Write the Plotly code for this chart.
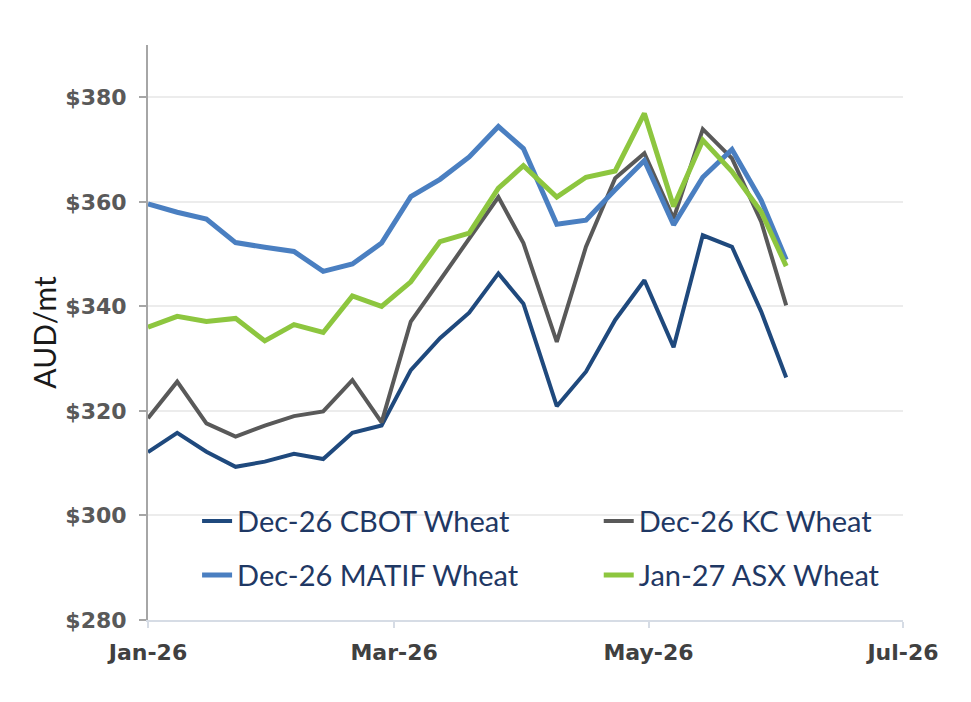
import plotly.graph_objects as go

# weekly settlement dates (a couple shifted for holidays)
dates = ["2026-01-01", "2026-01-08", "2026-01-15", "2026-01-22", "2026-01-29",
         "2026-02-05", "2026-02-12", "2026-02-19", "2026-02-26", "2026-03-05",
         "2026-03-12", "2026-03-19", "2026-03-26", "2026-04-01", "2026-04-09",
         "2026-04-16", "2026-04-23", "2026-04-30", "2026-05-07", "2026-05-14",
         "2026-05-21", "2026-05-28", "2026-06-03"]

cbot = [312.1, 315.8, 312.2, 309.3, 310.3, 311.8, 310.8, 315.8, 317.2, 327.8, 333.9, 338.8,
        346.3, 340.5, 320.9, 327.5, 337.4, 345.0, 332.2, 353.6, 351.4, 339.0, 326.4]
kc = [318.6, 325.6, 317.6, 315.1, 317.2, 319.0, 319.9, 325.9, 317.8, 337.1, 345.0, 353.0,
      360.9, 352.1, 333.2, 351.4, 364.5, 369.3, 356.8, 373.9, 368.3, 356.2, 340.2]
matif = [359.6, 358.0, 356.7, 352.2, 351.3, 350.5, 346.7, 348.1, 352.1, 361.0, 364.3, 368.6,
         374.4, 370.2, 355.7, 356.5, 362.3, 367.9, 355.6, 364.7, 370.0, 360.3, 348.9]
asx = [336.0, 338.1, 337.1, 337.7, 333.4, 336.5, 335.0, 342.0, 340.0, 344.7, 352.4, 354.0,
       362.6, 366.9, 360.9, 364.7, 365.9, 376.9, 359.1, 371.8, 365.8, 358.1, 347.7]

names = ["Dec-26 CBOT Wheat", "Dec-26 KC Wheat", "Dec-26 MATIF Wheat", "Jan-27 ASX Wheat"]
y_ticks = [280, 300, 320, 340, 360, 380]
y_labels = ["$" + str(v) for v in y_ticks]
x_ticks = ["2026-01-01", "2026-03-01", "2026-05-01", "2026-07-01"]
x_labels = ["Jan-26", "Mar-26", "May-26", "Jul-26"]

# name, values, colour, width, legend id, legend position (paper x, y)
SERIES = [
    (names[0], cbot, "#1f497d", 4, "legend", (0.065, 0.172)),
    (names[1], kc, "#595959", 4, "legend2", (0.597, 0.172)),
    (names[2], matif, "#4a7fc1", 5, "legend3", (0.065, 0.078)),
    (names[3], asx, "#8dc63f", 5, "legend4", (0.597, 0.078)),
]

fig = go.Figure()
leg_font = dict(family="Lato", size=29, color="#1f3864")
legends = {}
for name, vals, color, width, leg, (lx, ly) in SERIES:
    fig.add_trace(go.Scatter(x=dates, y=vals, mode="lines", name=name, showlegend=True,
                             line=dict(color=color, width=width), legend=leg))
    legends[leg] = dict(x=lx, y=ly, xanchor="left", yanchor="middle",
                        font=leg_font, bgcolor="rgba(0,0,0,0)")

# page body has an 8px margin, so the figure is a bit smaller than the window
fig.update_layout(
    width=963, height=694, showlegend=True,
    paper_bgcolor="white", plot_bgcolor="white",
    margin=dict(l=140, r=68, t=37, b=82),
    **legends,
)

fig.update_xaxes(range=["2026-01-01", "2026-07-01"], tickvals=x_ticks, ticktext=x_labels,
                 showline=True, linecolor="#d6dce5", linewidth=2,
                 ticks="outside", ticklen=6, tickcolor="#d6dce5", tickwidth=2,
                 ticklabelstandoff=6, showgrid=False, zeroline=False,
                 tickfont=dict(family="DejaVu Sans", size=22, color="#404040", weight="bold"))
fig.update_yaxes(range=[280, 390], tickvals=y_ticks, ticktext=y_labels,
                 showline=True, linecolor="#a6a6a6", linewidth=2,
                 ticks="outside", ticklen=7, tickcolor="#a6a6a6", tickwidth=2,
                 ticklabelstandoff=8,
                 showgrid=True, gridcolor="#ececec", gridwidth=1.5, zeroline=False,
                 tickfont=dict(family="DejaVu Sans", size=22, color="#595959", weight="bold"),
                 title=dict(text="AUD/mt", standoff=0,
                            font=dict(family="Lato", size=30, color="#1a1a1a")))

fig.write_html("out.html")
